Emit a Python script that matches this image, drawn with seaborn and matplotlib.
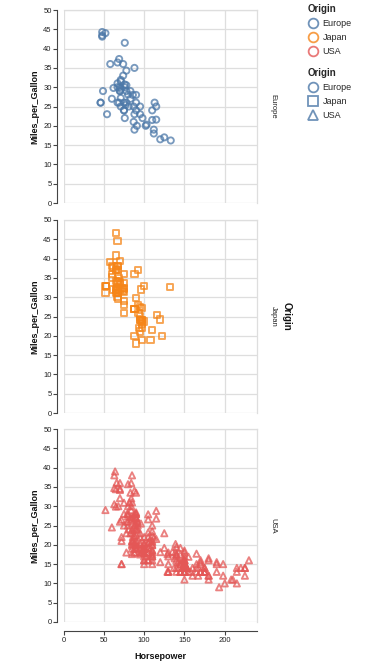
import pandas as pd
import matplotlib
matplotlib.use('Agg')
import matplotlib.pyplot as plt
from matplotlib.lines import Line2D
import seaborn as sns

# 資料：馬力 / 每加侖英里數，依產地分開
europe_hp = [46, 87, 90, 95, 113, 90, 70, 76, 60, 54,
             112, 76, 87, 69, 46, 90, 49, 75, 91, 112,
             110, 83, 67, 78, 75, 75, 67, 71, 70, 95,
             88, 98, 115, 86, 81, 83, 70, 71, 102, 88,
             120, 58, 78, 78, 110, 48, 103, 125, 115, 133,
             71, 71, 77, 71, 69, 76, 78, 48, 48, 67,
             67, 62, 88, 74, 80, 76, 74, 52]
europe_mpg = [26, 25, 24, 25, 26, 28, 30, 30, 27, 23,
              18, 22, 21, 26, 26, 26, 29, 24, 20, 19,
              24, 29, 26, 26, 24, 26, 31, 25, 29, 23,
              23, 22, 25, 28, 25, 27, 29, 29.5, 20, 19,
              16.5, 36, 29, 30.5, 21.5, 43.1, 20.3, 17, 21.6, 16.2,
              31.5, 31.9, 25.4, 27.2, 37.3, 41.5, 34.3, 44.3, 43.4, 36.4,
              30, 29.8, 35, 33, 28.1, 30.7, 36, 44]

japan_hp = [95, 88, 88, 95, 65, 69, 95, 97, 92, 97,
            88, 88, 94, 90, 122, 67, 65, 52, 61, 97,
            93, 75, 96, 97, 53, 53, 70, 75, 108, 68,
            70, 75, 67, 97, 110, 52, 70, 60, 95, 97,
            95, 97, 68, 65, 65, 60, 65, 90, 75, 92,
            75, 65, 65, 67, 67, 132, 100, 72, 58, 60,
            67, 65, 62, 68, 75, 75, 100, 74, 116, 120,
            68, 68, 88, 75, 70, 67, 67, 67, 96]
japan_mpg = [24, 27, 27, 25, 31, 35, 24, 19, 28, 23,
             27, 20, 22, 18, 20, 31, 32, 31, 32, 24,
             26, 29, 24, 24, 33, 33, 32, 28, 19, 31.5,
             33.5, 26, 30, 22, 21.5, 32.8, 39.4, 36.1, 27.5, 27.2,
             21.1, 23.9, 29.5, 34.1, 31.8, 38.1, 37.2, 29.8, 31.3, 37,
             32.2, 46.6, 40.8, 44.6, 33.8, 32.7, 23.7, 32.4, 39.1, 35.1,
             32.3, 37, 37.7, 34.1, 33.7, 32.4, 32.9, 31.6, 25.4, 24.2,
             37, 31, 36, 36, 34, 38, 32, 38, 32]

usa_hp = [130, 165, 150, 150, 140, 198, 220, 215, 225, 190,
          170, 160, 150, 225, 95, 97, 85, 90, 215, 200,
          210, 193, 90, 100, 105, 100, 88, 100, 165, 175,
          153, 150, 180, 170, 175, 110, 72, 100, 88, 86,
          70, 80, 90, 86, 165, 175, 150, 153, 150, 208,
          155, 160, 190, 150, 130, 140, 150, 86, 80, 175,
          150, 145, 137, 150, 198, 150, 158, 150, 215, 225,
          175, 105, 100, 100, 88, 95, 150, 167, 170, 180,
          100, 72, 85, 107, 145, 230, 150, 180, 95, 100,
          100, 80, 75, 100, 110, 105, 140, 150, 150, 140,
          150, 75, 95, 105, 72, 72, 170, 145, 150, 148,
          110, 105, 110, 95, 110, 110, 129, 83, 100, 78,
          97, 90, 92, 79, 140, 150, 120, 152, 100, 105,
          81, 90, 52, 60, 100, 78, 110, 95, 72, 150,
          180, 145, 130, 150, 80, 96, 145, 110, 145, 130,
          110, 105, 100, 98, 180, 170, 190, 149, 88, 89,
          63, 83, 66, 110, 140, 139, 105, 95, 85, 88,
          100, 90, 105, 85, 110, 120, 145, 165, 139, 140,
          68, 75, 105, 85, 115, 85, 88, 90, 110, 130,
          129, 138, 135, 155, 142, 125, 150, 80, 80, 125,
          90, 70, 70, 90, 115, 115, 90, 70, 90, 88,
          90, 90, 105, 84, 84, 92, 110, 84, 64, 63,
          65, 65, 110, 105, 88, 85, 88, 88, 88, 85,
          84, 90, 92, 63, 70, 110, 85, 92, 112, 84,
          90, 86, 84, 79, 82]
usa_mpg = [18, 15, 18, 16, 17, 15, 14, 14, 14, 15,
           15, 14, 15, 14, 22, 18, 21, 21, 10, 10,
           11, 9, 28, 19, 16, 17, 19, 18, 14, 14,
           14, 14, 12, 13, 13, 18, 22, 19, 18, 23,
           26, 25, 20, 21, 13, 14, 15, 14, 17, 11,
           13, 12, 13, 15, 13, 13, 14, 22, 28, 13,
           14, 13, 14, 15, 12, 13, 13, 14, 13, 12,
           13, 18, 16, 18, 18, 23, 11, 12, 13, 12,
           18, 21, 19, 21, 15, 16, 15, 11, 20, 19,
           15, 26, 25, 16, 16, 18, 16, 13, 14, 14,
           14, 28, 19, 18, 15, 15, 16, 15, 16, 14,
           17, 16, 15, 18, 21, 20, 13, 23, 20, 23,
           18, 19, 25, 26, 17.5, 16, 15.5, 14.5, 22, 22,
           24, 22.5, 29, 24.5, 20, 18, 18.5, 17.5, 26.5, 13,
           16.5, 13, 13, 13, 30, 25.5, 17.5, 17, 15.5, 15,
           17.5, 20.5, 19, 18.5, 16, 15.5, 15.5, 16, 24.5, 25.5,
           30.5, 33.5, 36.1, 19.9, 19.4, 20.2, 19.2, 20.5, 20.2, 25.1,
           20.5, 19.4, 20.6, 20.8, 18.6, 18.1, 19.2, 17.7, 18.1, 17.5,
           30, 30.9, 23.2, 23.8, 21.5, 19.8, 22.3, 20.2, 20.6, 17,
           17.6, 16.5, 18.2, 16.9, 15.5, 19.2, 18.5, 35.7, 27.4, 23,
           23.9, 34.2, 34.5, 28.4, 28.8, 26.8, 33.5, 32.1, 28, 26.4,
           24.3, 19.1, 27.9, 27.2, 26.6, 25.8, 23.5, 30, 39, 34.7,
           34.4, 29.9, 22.4, 26.6, 20.2, 17.6, 28, 27, 34, 31,
           29, 27, 24, 38, 36, 25, 38, 26, 22, 36,
           27, 27, 32, 28, 31]

origins = ['Europe', 'Japan', 'USA']
colors = {'Europe': '#4c78a8', 'Japan': '#f58518', 'USA': '#e45756'}
shapes = {'Europe': 'o', 'Japan': 's', 'USA': '^'}

df = pd.concat([
    pd.DataFrame({'Horsepower': europe_hp, 'Miles_per_Gallon': europe_mpg, 'Origin': 'Europe'}),
    pd.DataFrame({'Horsepower': japan_hp, 'Miles_per_Gallon': japan_mpg, 'Origin': 'Japan'}),
    pd.DataFrame({'Horsepower': usa_hp, 'Miles_per_Gallon': usa_mpg, 'Origin': 'USA'}),
], ignore_index=True)

sns.set_theme(style='white')
plt.rcParams['font.family'] = ['Liberation Sans', 'DejaVu Sans']

W, H = 367, 665
fig = plt.figure(figsize=(W / 100, H / 100), dpi=100)

# 面板位置 (像素)
panel_left, panel_w, panel_h = 63.5, 193.5, 193
panel_tops = [10, 220, 429]
axis_col = '#444444'
grid_col = '#dedede'

for i, origin in enumerate(origins):
    top = panel_tops[i]
    ax = fig.add_axes([panel_left / W, 1 - (top + panel_h) / H, panel_w / W, panel_h / H])
    sub = df[df['Origin'] == origin]
    sns.scatterplot(data=sub, x='Horsepower', y='Miles_per_Gallon', ax=ax,
                    marker=shapes[origin], s=20, facecolors='none',
                    edgecolor=colors[origin], linewidth=1.35, alpha=0.75,
                    legend=False, zorder=3)
    ax.set_xlim(0, 240)
    ax.set_ylim(0, 50)
    ax.set_yticks(range(0, 51, 5))
    ax.set_xticks([0, 50, 100, 150, 200])
    ax.grid(True, color=grid_col, linewidth=0.9, zorder=0)
    ax.set_axisbelow(True)
    for side in ['top', 'right']:
        ax.spines[side].set_visible(True)
        ax.spines[side].set_color(grid_col)
        ax.spines[side].set_linewidth(0.9)
    ax.spines['left'].set_position(('outward', 4.5))
    ax.spines['left'].set_color(axis_col)
    ax.spines['left'].set_linewidth(0.8)
    ax.tick_params(axis='y', left=True, length=3, width=0.8, color=axis_col,
                   labelsize=5.5, pad=1, labelcolor='#222222')
    ax.set_ylabel('Miles_per_Gallon', fontsize=6.5, fontweight='bold', color='#111111')
    ax.yaxis.set_label_coords(-0.125, 0.5)
    if i == 2:
        ax.spines['bottom'].set_position(('outward', 6.5))
        ax.spines['bottom'].set_color(axis_col)
        ax.spines['bottom'].set_linewidth(0.8)
        ax.tick_params(axis='x', bottom=True, length=3, width=0.8, color=axis_col,
                       labelsize=5.5, pad=1.5, labelcolor='#222222')
        ax.set_xlabel('Horsepower', fontsize=6.5, fontweight='bold', color='#111111')
        ax.xaxis.set_label_coords(0.5, -0.155)
    else:
        ax.spines['bottom'].set_visible(False)
        ax.tick_params(axis='x', bottom=False, labelbottom=False)
        ax.set_xlabel('')
    # 行標籤
    ax.text(273 / W, 1 - (top + panel_h / 2) / H, origin, transform=fig.transFigure,
            rotation=-90, ha='center', va='center', fontsize=5.5, color='#222222')

fig.text(287 / W, 1 - 316 / H, 'Origin', rotation=-90, ha='center', va='center',
         fontsize=7, fontweight='bold', color='#111111')

# 圖例
color_handles = [Line2D([], [], marker='o', ls='', mfc='none', mec=colors[o], mew=1.3,
                        ms=7, alpha=0.8) for o in origins]
shape_handles = [Line2D([], [], marker=shapes[o], ls='', mfc='none', mec='#4c78a8', mew=1.3,
                        ms=7, alpha=0.8) for o in origins]
for handles, y in [(color_handles, -2), (shape_handles, 62)]:
    leg = fig.legend(handles, origins, title='Origin', loc='upper left',
                     bbox_to_anchor=(301 / W, 1 - y / H), frameon=False,
                     fontsize=6.5, title_fontproperties={'weight': 'bold', 'size': 7},
                     alignment='left', handletextpad=0.5, labelspacing=0.55,
                     borderpad=0.2, handlelength=1.2)

fig.savefig('out.png', dpi=100)
